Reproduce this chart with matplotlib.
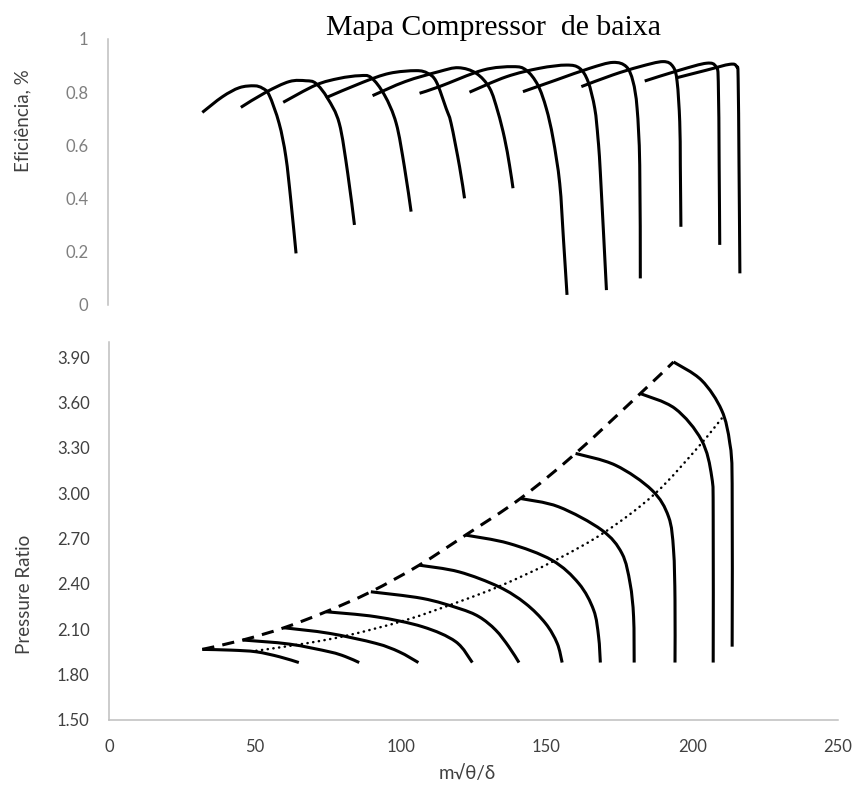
import numpy as np
import matplotlib
matplotlib.use("Agg")
import matplotlib.pyplot as plt
from matplotlib.path import Path
from matplotlib.patches import PathPatch

# corrected mass flow (m√θ/δ) and efficiency, one list per speed line
eff_flow = [
    [32.3, 39.2, 45.0, 50.1, 52.9, 55.2, 58.6, 60.9, 62.6, 64.4],
    [45.5, 54.1, 62.1, 67.8, 71.2, 75.2, 79.2, 82.1, 84.4],
    [60.0, 71.2, 79.2, 86.1, 90.1, 94.7, 98.7, 101.5, 103.8],
    [74.6, 87.2, 96.4, 105.5, 109.5, 112.4, 115.8, 117.5, 120.4, 122.1],
    [90.6, 101.8, 113.2, 120.0, 126.1, 130.7, 133.5, 135.8, 137.5, 138.7],
    [106.7, 113.5, 128.4, 138.7, 143.2, 147.2, 150.1, 152.4, 154.7, 156.0, 157.2],
    [123.8, 136.4, 147.8, 157.0, 161.5, 164.4, 166.7, 167.8, 168.6, 170.7],
    [142.1, 153.5, 165.0, 172.9, 177.5, 179.8, 181.2, 182.1, 182.3],
    [162.1, 172.9, 182.1, 190.1, 193.5, 194.9, 195.8, 196.0, 196.2],
    [183.8, 195.8, 205.0, 208.2, 209.0, 209.3, 209.5],
    [195.0, 205.0, 213.0, 215.3, 215.8, 216.1, 216.4],
]
eff_value = [
    [0.724, 0.783, 0.817, 0.824, 0.815, 0.789, 0.683, 0.558, 0.395, 0.194],
    [0.743, 0.800, 0.840, 0.843, 0.833, 0.777, 0.683, 0.495, 0.301],
    [0.762, 0.827, 0.852, 0.862, 0.855, 0.789, 0.683, 0.520, 0.351],
    [0.779, 0.837, 0.871, 0.881, 0.871, 0.840, 0.739, 0.683, 0.520, 0.401],
    [0.787, 0.840, 0.877, 0.892, 0.871, 0.815, 0.727, 0.627, 0.526, 0.439],
    [0.796, 0.821, 0.883, 0.896, 0.883, 0.827, 0.739, 0.627, 0.457, 0.244, 0.038],
    [0.800, 0.858, 0.890, 0.902, 0.890, 0.840, 0.739, 0.627, 0.500, 0.056],
    [0.802, 0.846, 0.890, 0.912, 0.896, 0.840, 0.739, 0.526, 0.100],
    [0.821, 0.865, 0.896, 0.915, 0.896, 0.840, 0.689, 0.526, 0.294],
    [0.842, 0.883, 0.909, 0.896, 0.840, 0.526, 0.226],
    [0.855, 0.883, 0.905, 0.896, 0.852, 0.526, 0.119],
]

# pressure ratio along the same speed lines
pr_flow = [
    [32.0, 42.0, 50.5, 58.5, 65.1],
    [45.9, 61.9, 75.6, 81.0, 85.8],
    [60.0, 75.6, 91.5, 99.5, 106.1],
    [74.4, 91.5, 107.5, 118.9, 124.6],
    [89.8, 107.5, 120.0, 126.9, 132.6, 137.1, 140.6],
    [106.4, 120.0, 133.7, 142.8, 149.7, 153.7, 155.4],
    [122.3, 137.1, 151.9, 161.1, 166.2, 167.9, 168.5],
    [141.1, 154.2, 169.0, 175.9, 178.7, 179.9, 180.1],
    [160.0, 173.7, 186.2, 191.9, 193.6, 194.1, 194.1],
    [182.2, 194.1, 203.2, 206.7, 207.2, 207.2],
    [193.6, 203.2, 210.1, 212.9, 213.7, 213.7],
]
pr_value = [
    [1.967, 1.962, 1.951, 1.918, 1.88],
    [2.029, 2.002, 1.951, 1.920, 1.88],
    [2.110, 2.073, 2.007, 1.951, 1.88],
    [2.216, 2.183, 2.117, 2.018, 1.88],
    [2.348, 2.304, 2.238, 2.183, 2.095, 1.985, 1.88],
    [2.524, 2.480, 2.381, 2.271, 2.139, 2.007, 1.88],
    [2.723, 2.668, 2.557, 2.403, 2.227, 2.051, 1.88],
    [2.965, 2.910, 2.756, 2.602, 2.403, 2.183, 1.88],
    [3.263, 3.185, 3.020, 2.844, 2.624, 2.293, 1.88],
    [3.659, 3.560, 3.351, 3.108, 2.844, 1.88],
    [3.868, 3.747, 3.549, 3.329, 3.064, 1.985],
]

# surge line
surge_flow = [32.0, 45.9, 60.0, 74.4, 89.8, 106.4, 122.3, 141.1, 160.0, 182.2, 193.6]
surge_pr = [1.967, 2.029, 2.110, 2.216, 2.348, 2.524, 2.723, 2.965, 3.263, 3.659, 3.868]

# operating line
op_flow = [50.5, 67.6, 82.4, 101.8, 120.0, 134.8, 153.1, 170.2, 187.3, 202.1, 210.1]
op_pr = [1.958, 2.007, 2.062, 2.161, 2.282, 2.392, 2.557, 2.745, 2.998, 3.306, 3.494]

eff_ticks = [0, 0.2, 0.4, 0.6, 0.8, 1.0]
eff_labels = ["0", "0.2", "0.4", "0.6", "0.8", "1"]
pr_ticks = [1.5, 1.8, 2.1, 2.4, 2.7, 3.0, 3.3, 3.6, 3.9]
x_ticks = [0, 50, 100, 150, 200, 250]


def smooth_line(ax, x, y, **kw):
    """Smoothed line through the points (cubic Bezier, Catmull-Rom tangents),
    like the 'smoothed line' option of a spreadsheet scatter chart."""
    p = np.column_stack([x, y]).astype(float)
    verts = [p[0]]
    codes = [Path.MOVETO]
    n = len(p)
    for i in range(n - 1):
        p0 = p[i - 1] if i > 0 else p[i]
        p3 = p[i + 2] if i + 2 < n else p[i + 1]
        c1 = p[i] + (p[i + 1] - p0) / 6.0
        c2 = p[i + 1] - (p3 - p[i]) / 6.0
        verts += [c1, c2, p[i + 1]]
        codes += [Path.CURVE4] * 3
    patch = PathPatch(Path(verts, codes), fill=False, **kw)
    ax.add_patch(patch)
    return patch


plt.rcParams["font.family"] = ["Lato", "DejaVu Sans"]
grey_axis = "#bfbfbf"
lw = 2.2

W, H = 855, 789
fig = plt.figure(figsize=(W / 100, H / 100), dpi=100)

# efficiency map
ax1 = fig.add_axes([108 / W, 1 - 305 / H, 730 / W, 266 / H])
for x, y in zip(eff_flow, eff_value):
    smooth_line(ax1, x, y, edgecolor="black", lw=lw, joinstyle="round", capstyle="butt")
ax1.set_xlim(0, 250)
ax1.set_ylim(0, 1)
ax1.set_xticks([])
ax1.set_yticks(eff_ticks)
ax1.set_yticklabels(eff_labels)
ax1.tick_params(axis="y", length=0, pad=14, labelsize=12, labelcolor="#7f7f7f")
for s in ["top", "right", "bottom"]:
    ax1.spines[s].set_visible(False)
ax1.spines["left"].set_color(grey_axis)
ax1.spines["left"].set_linewidth(1.1)

# pressure ratio map
ax2 = fig.add_axes([109 / W, 69 / H, 729 / W, 378 / H])
for x, y in zip(pr_flow, pr_value):
    smooth_line(ax2, x, y, edgecolor="black", lw=lw, joinstyle="round", capstyle="butt")
smooth_line(ax2, surge_flow, surge_pr, edgecolor="black", lw=lw,
            linestyle=(0, (4, 2.7)), capstyle="butt")
smooth_line(ax2, op_flow, op_pr, edgecolor="black", lw=1.8,
            linestyle=(0, (0.1, 2.2)), capstyle="round")
ax2.set_xlim(0, 250)
ax2.set_ylim(1.5, 4.0)
ax2.set_xticks(x_ticks)
ax2.set_yticks(pr_ticks)
ax2.set_yticklabels([f"{v:.2f}" for v in pr_ticks])
ax2.tick_params(axis="both", length=0, labelsize=12, labelcolor="#404040")
ax2.tick_params(axis="y", pad=14)
ax2.tick_params(axis="x", pad=14)
for s in ["top", "right"]:
    ax2.spines[s].set_visible(False)
for s in ["left", "bottom"]:
    ax2.spines[s].set_color(grey_axis)
    ax2.spines[s].set_linewidth(1.1)

fig.text(493 / W, 1 - 35 / H, "Mapa Compressor  de baixa", ha="center", va="baseline",
         fontsize=21.5, family="Liberation Serif", color="black")
fig.text(23 / W, 1 - 121 / H, "Eficiência, %", rotation=90, ha="center", va="center",
         fontsize=13.5, color="#404040")
fig.text(25 / W, 1 - 594 / H, "Pressure Ratio", rotation=90, ha="center", va="center",
         fontsize=13.5, color="#404040")
fig.text(467 / W, 1 - 773 / H, "m√θ/δ", ha="center", va="center",
         fontsize=13.5, color="#404040")

fig.savefig("out.png", dpi=100)
